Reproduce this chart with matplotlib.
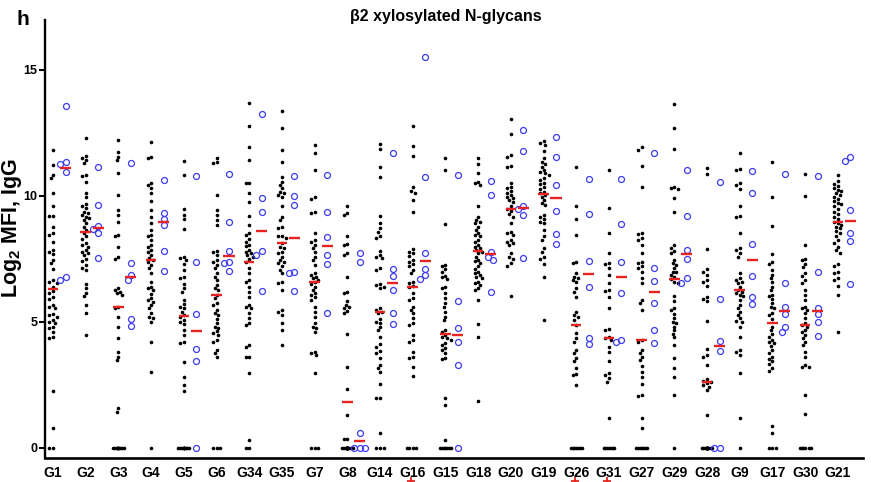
import numpy as np
import matplotlib
matplotlib.use("Agg")
import matplotlib.pyplot as plt
from matplotlib.transforms import blended_transform_factory

plt.rcParams["font.family"] = ["Liberation Sans", "DejaVu Sans"]
plt.rcParams["font.weight"] = "bold"
plt.rcParams["mathtext.fontset"] = "custom"
plt.rcParams["mathtext.rm"] = "Liberation Sans:bold"
plt.rcParams["mathtext.bf"] = "Liberation Sans:bold"

groups = ["G1", "G2", "G3", "G4", "G5", "G6", "G34", "G35", "G7", "G8", "G14", "G16",
          "G15", "G18", "G20", "G19", "G26", "G31", "G27", "G29", "G28", "G9", "G17", "G30", "G21"]

# log2 MFI per serum (black dots)
sera = [
    [11.83, 11.23, 10.83, 10.70, 10.13, 9.58, 9.22, 9.22, 8.76, 8.52, 8.45, 8.19, 7.86, 7.79, 7.70,
     7.46, 7.33, 7.09, 6.67, 6.60, 6.56, 6.40, 6.24, 6.14, 5.98, 5.90, 5.67, 5.61, 5.54, 5.32, 5.28,
     5.21, 5.08, 5.00, 4.95, 4.81, 4.75, 4.60, 4.42, 4.35, 2.24, 0.81, 0, 0],
    [12.29, 11.59, 11.49, 11.43, 11.30, 10.83, 10.79, 10.57, 10.13, 9.97, 9.68, 9.60, 9.51, 9.38,
     9.31, 9.25, 9.18, 9.11, 9.05, 8.92, 8.78, 8.65, 8.52, 8.39, 8.30, 8.12, 8.06, 7.99, 7.86, 7.79,
     7.72, 7.65, 7.49, 7.43, 7.25, 7.13, 7.06, 6.50, 6.34, 6.14, 6.01, 5.67, 5.34, 4.48],
    [12.22, 11.76, 11.56, 11.43, 10.90, 10.04, 9.44, 9.25, 8.98, 8.45, 8.39, 7.99, 7.59, 7.49, 6.34,
     6.27, 6.20, 6.14, 6.07, 5.61, 5.54, 5.21, 4.81, 4.35, 3.82, 3.62, 3.49, 1.57, 1.44,
     0, 0, 0, 0, 0, 0, 0, 0, 0, 0],
    [12.12, 11.56, 11.49, 10.50, 10.44, 10.30, 10.13, 9.78, 9.44, 9.18, 8.92, 8.65, 8.45, 8.39, 8.25,
     8.06, 7.99, 7.86, 7.79, 7.65, 7.52, 7.46, 7.39, 7.26, 7.13, 6.93, 6.60, 6.40, 6.34, 6.27, 6.10,
     5.94, 5.87, 5.80, 5.67, 5.54, 5.34, 5.20, 5.15, 5.01, 4.22, 3.00, 0],
    [11.40, 10.83, 9.47, 9.25, 9.07, 8.68, 7.59, 7.53, 7.46, 7.30, 7.06, 6.80, 6.73, 6.50, 6.34,
     6.20, 5.87, 5.70, 5.61, 5.54, 5.41, 5.28, 5.19, 5.08, 5.00, 4.90, 4.68, 4.50, 4.22, 4.15, 3.39,
     2.83, 2.50, 2.26, 0, 0, 0, 0, 0, 0, 0, 0, 0, 0],
    [11.52, 11.36, 11.30, 10.04, 9.44, 9.25, 9.05, 8.85, 7.83, 7.79, 7.66, 7.46, 7.39, 7.26, 7.13,
     6.93, 6.80, 6.67, 6.47, 6.34, 6.27, 6.07, 5.94, 5.74, 5.67, 5.48, 5.34, 5.28, 5.10, 4.95, 4.81,
     4.75, 4.62, 4.55, 4.48, 4.30, 4.22, 3.89, 3.76, 3.62, 0, 0, 0],
    [13.68, 12.78, 11.93, 11.43, 10.53, 10.50, 10.13, 9.74, 9.20, 8.85, 8.52, 8.45, 8.30, 8.19, 8.06,
     8.00, 7.86, 7.79, 7.72, 7.66, 7.59, 7.50, 7.39, 7.13, 6.93, 6.67, 6.60, 6.40, 6.20, 5.98, 5.67,
     5.61, 5.54, 5.34, 5.15, 4.95, 4.88, 4.09, 4.02, 3.62, 3.62, 2.99, 0.32, 0, 0],
    [13.35, 12.71, 11.83, 11.36, 10.77, 10.57, 10.44, 10.30, 10.17, 10.11, 10.04, 9.97, 9.58, 9.18,
     9.05, 8.78, 8.72, 8.41, 8.39, 8.32, 8.12, 7.99, 7.92, 7.79, 7.72, 7.59, 7.46, 7.39, 7.33, 7.20,
     7.06, 6.93, 6.60, 6.53, 6.27, 5.48, 5.41, 5.28, 4.95, 4.68, 4.09],
    [12.02, 11.69, 11.01, 9.97, 9.87, 9.38, 9.31, 8.52, 8.25, 8.19, 8.06, 7.92, 7.79, 7.59, 7.46,
     7.26, 6.93, 6.87, 6.80, 6.73, 6.67, 6.60, 6.51, 6.40, 6.27, 6.14, 6.07, 5.98, 5.87, 5.61, 5.40,
     5.21, 4.95, 4.81, 4.75, 4.58, 3.82, 3.76, 3.69, 2.96, 0, 0, 0],
    [9.58, 9.31, 9.25, 8.39, 8.10, 8.06, 7.75, 7.66, 6.77, 6.20, 6.14, 5.81, 5.67, 5.61, 5.54, 5.45,
     5.34, 4.52, 3.20, 2.33, 1.31, 0.34, 0.34,
     0, 0, 0, 0, 0, 0, 0, 0, 0, 0, 0, 0, 0, 0, 0, 0, 0],
    [12.06, 11.85, 11.14, 10.74, 9.21, 8.92, 8.72, 8.58, 8.41, 8.32, 7.83, 7.66, 7.59, 7.53, 7.13,
     7.06, 6.49, 6.47, 6.40, 6.34, 5.54, 5.48, 5.41, 5.34, 5.11, 5.01, 4.95, 4.79, 4.66, 4.40, 4.13,
     4.02, 3.86, 3.76, 3.56, 3.30, 3.16, 3.03, 2.53, 2.00, 2.00, 0.58, 0, 0, 0],
    [12.78, 11.98, 11.59, 10.34, 10.21, 10.11, 9.84, 9.38, 7.88, 7.79, 7.72, 7.62, 7.46, 7.39, 7.30,
     7.20, 7.06, 6.93, 6.60, 6.53, 6.43, 6.38, 6.14, 5.95, 5.87, 5.61, 5.48, 5.34, 5.15, 4.97, 4.88,
     4.48, 4.29, 4.22, 3.82, 3.62, 3.56, 3.23, 2.86, 0, 0, 0, 0],
    [11.49, 11.01, 8.88, 7.26, 7.20, 7.09, 7.00, 6.83, 6.77, 6.69, 6.40, 6.34, 6.14, 5.94, 5.74,
     5.61, 5.41, 5.21, 5.08, 4.68, 4.58, 4.48, 4.40, 4.35, 4.29, 4.15, 4.09, 3.96, 3.90, 3.76, 3.56,
     3.52, 2.00, 1.71, 0.32, 0, 0, 0, 0, 0, 0, 0],
    [11.49, 11.27, 10.90, 10.57, 10.50, 10.44, 9.58, 9.18, 9.05, 8.98, 8.92, 8.78, 8.65, 8.52, 8.45,
     8.39, 8.25, 8.19, 8.06, 7.99, 7.92, 7.85, 7.79, 7.72, 7.59, 7.46, 7.40, 7.33, 7.20, 7.10, 7.00,
     6.95, 6.87, 6.80, 6.73, 6.60, 6.55, 6.47, 6.34, 6.27, 5.87, 4.91, 4.39, 1.88],
    [13.04, 12.46, 11.63, 11.53, 11.19, 11.14, 10.53, 10.37, 10.30, 10.21, 10.13, 10.04, 9.97, 9.91,
     9.84, 9.74, 9.58, 9.47, 9.42, 9.29, 9.18, 8.92, 8.58, 8.52, 8.45, 8.25, 8.19, 8.12, 8.06, 7.72,
     7.59, 7.49, 7.33, 7.22, 6.01],
    [12.16, 12.09, 12.02, 11.80, 11.49, 11.36, 11.25, 11.16, 11.03, 10.95, 10.90, 10.83, 10.70,
     10.63, 10.53, 10.48, 10.37, 10.26, 10.17, 10.11, 10.04, 9.97, 9.84, 9.71, 9.64, 9.25, 9.18,
     9.07, 8.98, 8.92, 8.65, 8.39, 8.25, 7.92, 7.79, 7.59, 7.49, 7.30, 6.77, 5.08],
    [11.14, 9.58, 9.07, 8.45, 7.39, 7.33, 6.93, 6.80, 6.73, 6.67, 6.60, 6.34, 6.20, 5.98, 5.41, 5.28,
     5.19, 5.08, 4.88, 4.55, 4.35, 4.22, 3.89, 3.76, 3.56, 3.43, 3.17, 2.94, 2.90, 2.50,
     0, 0, 0, 0, 0, 0, 0],
    [11.01, 9.51, 8.54, 7.72, 7.35, 7.30, 7.13, 6.87, 6.56, 6.27, 6.24, 5.98, 5.54, 4.71, 4.66, 4.42,
     4.35, 4.29, 4.02, 3.82, 3.43, 2.96, 2.90, 2.76, 2.63, 1.18, 0, 0, 0, 0, 0, 0, 0],
    [11.93, 11.83, 11.19, 10.34, 8.54, 8.49, 8.32, 8.25, 8.06, 7.75, 7.39, 7.33, 7.20, 7.13, 6.99,
     6.73, 6.56, 5.87, 5.74, 5.48, 4.29, 4.22, 3.89, 3.76, 3.62, 3.49, 3.25, 3.03, 2.83, 2.54, 2.10,
     2.06, 1.18, 0.81, 0, 0, 0, 0, 0, 0, 0],
    [13.65, 12.69, 11.85, 10.37, 10.30, 10.26, 9.91, 9.38, 8.06, 7.95, 7.83, 7.72, 7.46, 7.33, 7.26,
     7.13, 7.00, 6.99, 6.87, 6.80, 6.69, 6.60, 6.56, 6.03, 5.81, 5.54, 5.48, 5.32, 5.15, 5.01, 4.95,
     4.81, 4.66, 4.52, 4.39, 4.09, 3.56, 3.17, 2.83, 2.10, 0],
    [11.10, 10.87, 7.90, 7.09, 7.00, 6.87, 6.67, 6.60, 6.43, 5.98, 5.90, 5.81, 5.05, 3.92, 3.70, 3.62,
     3.29, 2.72, 2.67, 2.63, 2.57, 2.50, 2.43, 2.30, 1.31,
     0, 0, 0, 0, 0, 0, 0, 0, 0, 0, 0, 0, 0, 0, 0],
    [11.69, 11.06, 11.03, 10.53, 10.44, 10.26, 9.58, 9.21, 9.18, 8.52, 7.92, 7.86, 7.72, 7.59, 6.93,
     6.73, 6.67, 6.60, 6.53, 6.40, 6.27, 6.20, 6.14, 6.07, 6.01, 5.87, 5.67, 5.54, 5.41, 5.28, 5.15,
     5.05, 5.01, 4.80, 4.42, 3.89, 3.82, 3.69, 2.96, 1.18, 0],
    [11.36, 9.97, 8.81, 7.70, 7.39, 7.30, 7.06, 6.87, 6.73, 6.60, 6.40, 6.27, 6.07, 6.01, 5.90, 5.74,
     5.61, 5.54, 5.37, 5.28, 5.11, 4.81, 4.68, 4.52, 4.42, 4.29, 4.22, 4.15, 4.05, 3.89, 3.78, 3.62,
     3.52, 3.43, 3.33, 3.16, 3.07, 0.85, 0.61, 0, 0, 0],
    [10.87, 10.00, 8.06, 7.49, 7.46, 7.30, 7.17, 6.93, 6.83, 6.67, 6.56, 6.27, 6.07, 5.87, 5.61, 5.54,
     5.48, 5.34, 5.15, 4.95, 4.88, 4.81, 4.68, 4.58, 4.48, 4.35, 4.22, 4.09, 3.82, 3.62, 3.29, 3.23,
     3.20, 2.10, 1.34, 0, 0, 0, 0, 0, 0],
    [10.83, 10.60, 10.48, 10.40, 10.30, 10.25, 10.21, 10.11, 10.04, 9.97, 9.87, 9.78, 9.70, 9.68,
     9.58, 9.47, 9.38, 9.29, 9.18, 9.07, 8.98, 8.92, 8.85, 8.78, 8.72, 8.62, 8.52, 8.41, 8.25, 8.15,
     7.99, 7.86, 7.75, 7.30, 7.20, 7.00, 6.93, 6.73, 6.67, 6.43, 6.07, 4.58],
]

# log2 MFI per control (open blue circles)
controls = [
    [13.57, 11.36, 11.27, 10.94, 6.77, 6.67],
    [11.14, 9.63, 8.81, 8.68, 8.52, 7.55],
    [11.32, 7.33, 6.87, 6.67, 5.11, 4.84],
    [10.63, 9.31, 9.07, 8.85, 7.83, 7.02],
    [10.79, 7.39, 5.32, 3.92, 3.43, 0],
    [10.86, 8.96, 7.82, 7.39, 7.35, 7.01],
    [13.25, 9.91, 9.38, 7.82, 7.66, 6.24],
    [10.79, 10.00, 9.64, 6.98, 6.96, 6.24],
    [10.83, 9.38, 8.35, 7.65, 7.29, 5.37],
    [7.72, 7.39, 0.58, 0, 0, 0],
    [11.72, 7.09, 6.83, 6.27, 5.34, 4.92],
    [15.53, 10.74, 7.72, 7.09, 6.87, 6.69],
    [10.83, 5.81, 4.75, 4.22, 3.29, 0],
    [10.61, 10.03, 7.79, 7.59, 7.46, 6.20],
    [12.62, 11.80, 9.58, 9.47, 9.25, 7.55],
    [12.33, 11.56, 10.42, 9.42, 8.49, 8.08],
    [10.66, 9.29, 7.41, 6.38, 4.35, 4.11],
    [10.66, 8.88, 7.39, 6.14, 4.29, 4.22],
    [11.72, 7.13, 6.63, 5.74, 4.68, 4.18],
    [11.01, 9.22, 7.86, 7.50, 6.73, 6.56],
    [10.54, 5.91, 4.26, 3.86, 0, 0],
    [10.97, 10.13, 8.10, 6.83, 5.98, 5.71],
    [10.87, 6.56, 5.58, 5.32, 4.78, 4.58],
    [10.79, 6.98, 5.54, 5.32, 5.01, 4.44],
    [11.56, 11.40, 9.44, 8.54, 8.23, 6.51],
]

flagged = ["G16", "G26", "G31"]

W, H = 871, 482
XMIN, XMAX = -0.245, 24.77
YMIN, YMAX = -0.40, 16.98
AX_L, AX_B, AX_W, AX_H = 45, 24, 818, 438
px_x = AX_W / (XMAX - XMIN)
px_y = AX_H / (YMAX - YMIN)


def swarm(vals, diam, step, max_off):
    # horizontal pixel offsets so that dots at similar heights sit side by side
    vals = np.asarray(vals, float)
    ys = vals * px_y
    cands = [0.0]
    k = 1
    while k * step <= max_off + 1e-9:
        cands += [-k * step, k * step]
        k += 1
    offs = np.zeros(len(vals))
    px, py = [], []
    for i in np.argsort(-vals, kind="stable"):
        best, best_d = 0.0, -1.0
        for c in cands:
            if px:
                d = np.min(np.hypot(np.array(px) - c, np.array(py) - ys[i]))
            else:
                d = np.inf
            if d >= diam:
                best = c
                break
            if d > best_d:
                best, best_d = c, d
        offs[i] = best
        px.append(best)
        py.append(ys[i])
    return offs


fig = plt.figure(figsize=(W / 100, H / 100), dpi=100)
ax = fig.add_axes([AX_L / W, AX_B / H, AX_W / W, AX_H / H])

shift = 12.5 / px_x
for i, (s, c) in enumerate(zip(sera, controls)):
    s = np.array(s)
    c = np.array(c)
    ax.plot(i + swarm(s, 3.6, 1.8, 5.4) / px_x, s, "o", ms=2.6, color="black",
            mec="none", zorder=2)
    ax.plot(i + shift + swarm(c, 5.4, 2.7, 5.4) / px_x, c, "o", ms=4.3, mfc="none",
            mec="#3c3cf0", mew=0.9, zorder=2)
    ax.hlines(np.median(s), i - 0.16, i + 0.16, color="#e8231f", lw=1.7, zorder=3)
    ax.hlines(np.median(c), i + shift - 0.17, i + shift + 0.17, color="#e8231f", lw=1.7, zorder=3)

ax.set_xlim(XMIN, XMAX)
ax.set_ylim(YMIN, YMAX)
ax.set_yticks([0, 5, 10, 15])
ax.set_xticks(range(len(groups)))
ax.set_xticklabels(groups)
ax.tick_params(axis="y", length=4, width=1.5, pad=1.5, labelsize=9)
ax.tick_params(axis="x", length=0, pad=6, labelsize=10)
for side in ["top", "right"]:
    ax.spines[side].set_visible(False)
ax.spines["left"].set_linewidth(1.7)
ax.spines["bottom"].set_linewidth(1.9)

# small red flags under some group names
trans = blended_transform_factory(ax.transData, fig.transFigure)
fx = [groups.index(g) - 0.05 for g in flagged]
ax.plot(fx, [1.5 / H] * len(fx), "+", ms=6, mew=1.3, color="#e8231f",
        transform=trans, clip_on=False)

fig.text(446 / W, 1 - 17 / H, "β2 xylosylated N-glycans", ha="center", va="center",
         fontsize=11.5, fontweight="bold")
fig.text(16 / W, 1 - 25 / H, "h", fontsize=15, fontweight="bold", va="baseline")
fig.text(11.5 / W, 1 - 228 / H, r"Log$_\mathbf{2}$ MFI, IgG", rotation=90, ha="center",
         va="center", fontsize=15.5, fontweight="bold")

fig.savefig("out.png", dpi=100)
